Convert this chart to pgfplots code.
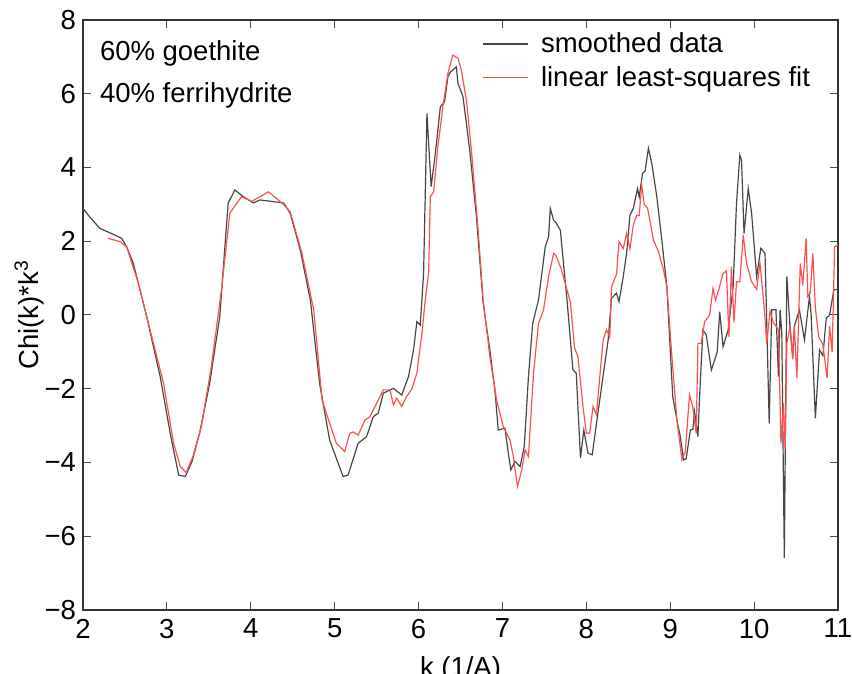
\documentclass[border=0pt]{standalone}
\usepackage{fontspec}
\setmainfont{Liberation Sans}
\usepackage{pgfplots}
\pgfplotsset{compat=1.18}
\definecolor{smoothgray}{RGB}{70,70,70}
\definecolor{fitred}{RGB}{255,80,80}

\pgfplotstableread{
k v
2.00 2.89
2.08 2.66
2.20 2.35
2.34 2.21
2.46 2.08
2.52 1.85
2.60 1.40
2.76 -0.05
2.92 -1.67
3.04 -3.21
3.14 -4.34
3.22 -4.38
3.30 -3.97
3.39 -3.21
3.51 -1.85
3.63 -0.05
3.73 3.03
3.81 3.39
3.91 3.21
4.03 3.04
4.11 3.12
4.39 3.04
4.47 2.76
4.59 1.76
4.71 0.41
4.82 -1.85
4.94 -3.39
5.10 -4.38
5.16 -4.34
5.28 -3.48
5.38 -3.30
5.46 -2.76
5.52 -2.66
5.58 -2.12
5.70 -1.99
5.80 -2.17
5.88 -1.67
5.94 -0.95
5.98 -0.18
6.02 -0.27
6.06 1.13
6.10 5.47
6.15 3.48
6.20 4.38
6.26 5.65
6.31 5.78
6.35 6.46
6.38 6.59
6.45 6.73
6.47 6.28
6.53 5.92
6.61 4.47
6.69 2.66
6.77 0.32
6.85 -0.95
6.91 -2.03
6.95 -3.12
7.03 -3.07
7.07 -3.75
7.10 -4.20
7.15 -3.97
7.21 -4.11
7.26 -3.57
7.31 -1.67
7.36 -0.23
7.43 0.41
7.51 1.85
7.55 2.12
7.57 2.89
7.61 2.57
7.64 2.50
7.69 2.30
7.77 0.40
7.84 -1.49
7.88 -1.58
7.93 -3.88
7.97 -3.12
8.02 -3.75
8.07 -3.79
8.16 -2.30
8.26 -0.68
8.30 0.45
8.36 0.59
8.39 0.36
8.44 1.04
8.48 1.67
8.52 2.71
8.56 2.89
8.61 3.43
8.63 3.20
8.67 3.84
8.70 3.90
8.74 4.52
8.78 4.11
8.84 3.21
8.90 2.03
8.96 0.77
9.03 -2.21
9.08 -2.85
9.12 -3.30
9.16 -3.93
9.19 -3.90
9.24 -3.12
9.27 -3.10
9.29 -2.62
9.33 -3.30
9.35 -2.21
9.39 -0.41
9.43 -0.54
9.49 -1.49
9.53 -1.22
9.56 -1.00
9.59 0.09
9.63 -0.86
9.69 -0.41
9.75 0.77
9.79 3.03
9.83 4.34
9.85 4.20
9.88 2.21
9.93 3.43
9.97 2.76
10.03 1.04
10.08 1.81
10.13 1.67
10.18 -2.94
10.21 0.14
10.26 0.14
10.29 -1.67
10.31 0.14
10.33 -0.50
10.36 -6.59
10.39 1.04
10.43 -0.40
10.46 -1.13
10.48 -0.30
10.54 0.14
10.60 -0.68
10.66 0.50
10.68 0.00
10.73 -2.80
10.78 -0.95
10.82 -1.10
10.86 -0.09
10.90 0.00
10.95 0.68
11.00 0.70
}\smoothed

\pgfplotstableread{
k v
2.30 2.08
2.44 1.99
2.52 1.85
2.66 0.86
2.80 -0.41
2.96 -1.85
3.08 -3.48
3.16 -4.11
3.23 -4.27
3.31 -3.84
3.41 -3.03
3.53 -1.40
3.65 0.68
3.75 2.76
3.89 3.21
4.01 3.08
4.21 3.34
4.39 3.00
4.47 2.80
4.61 1.67
4.75 0.14
4.85 -2.30
4.90 -2.66
5.02 -3.48
5.12 -3.70
5.18 -3.21
5.22 -3.17
5.28 -3.26
5.36 -2.85
5.42 -2.76
5.54 -2.21
5.58 -2.03
5.66 -2.03
5.70 -2.44
5.74 -2.26
5.80 -2.48
5.86 -2.20
5.92 -2.01
5.98 -1.58
6.04 -0.50
6.08 0.41
6.12 1.13
6.14 3.21
6.18 3.34
6.23 4.56
6.29 5.65
6.35 6.55
6.41 7.05
6.47 6.96
6.51 6.64
6.57 5.83
6.63 4.47
6.71 2.30
6.77 0.41
6.85 -1.13
6.93 -2.30
7.01 -3.03
7.09 -3.39
7.13 -3.84
7.18 -4.65
7.23 -4.20
7.27 -3.66
7.31 -3.84
7.37 -1.58
7.43 -0.23
7.49 0.14
7.55 1.04
7.61 1.67
7.64 1.60
7.70 1.25
7.81 0.35
7.86 -0.90
7.90 -1.13
7.96 -2.48
8.00 -3.21
8.04 -3.20
8.08 -2.48
8.12 -2.70
8.20 -0.68
8.24 -0.40
8.28 -0.60
8.30 0.77
8.36 1.10
8.39 1.99
8.44 1.80
8.48 2.21
8.52 1.80
8.56 2.44
8.60 2.70
8.63 2.70
8.66 3.52
8.69 3.00
8.73 2.90
8.80 2.03
8.86 1.72
8.92 1.22
8.96 0.77
9.02 -1.13
9.08 -2.85
9.14 -3.93
9.18 -3.70
9.23 -2.17
9.27 -2.50
9.31 -3.21
9.33 -0.77
9.37 -0.77
9.41 -0.18
9.47 0.00
9.51 0.72
9.54 0.40
9.58 0.70
9.63 1.13
9.67 1.20
9.70 -0.59
9.73 1.31
9.76 -0.20
9.79 0.90
9.83 0.90
9.87 2.17
9.91 1.40
9.97 0.90
10.03 0.70
10.07 1.40
10.12 0.20
10.15 -0.77
10.19 0.10
10.23 -0.20
10.29 -0.40
10.32 -3.48
10.35 -2.40
10.37 -3.66
10.39 -0.77
10.43 -0.30
10.46 -1.20
10.48 -0.30
10.51 -1.72
10.55 1.40
10.58 0.80
10.62 2.08
10.64 0.50
10.67 0.60
10.70 1.67
10.73 0.20
10.77 -0.60
10.82 -0.80
10.87 -1.72
10.90 -0.30
10.93 -1.00
10.96 1.85
11.00 1.90
}\fitted

\begin{document}
\begin{tikzpicture}[font=\fontsize{13.8}{21}\selectfont]
\begin{axis}[
    scale only axis,
    width=377.5bp,
    height=295bp,
    xmin=2, xmax=11,
    ymin=-8, ymax=8,
    xtick={2,3,...,11},
    ytick={-8,-6,...,8},
    yticklabels={−8,−6,−4,−2,0,2,4,6,8},
    /pgf/number format/assume math mode=true,
    tick align=inside,
    major tick length=4bp,
    axis line style={black!80, line width=0.6pt},
    tick style={black!70, line width=0.5pt},
    xlabel={k (1/A)},
    ylabel={Chi(k)*k\textsuperscript{3}},
    xlabel style={yshift=-2bp},
    ylabel style={yshift=-6.5bp},
    xticklabel style={yshift=-1bp},
    legend cell align=left,
    legend style={draw=none, fill=none, at={(0.525,0.99)}, anchor=north west,
        row sep=1.5bp, inner sep=1bp},
    legend image code/.code={\draw[#1, line width=0.8pt] (0cm,0cm) -- (0.8cm,0cm); \path (0.95cm,0cm);},
]
\addplot[smoothgray, line width=0.6pt] table[x=k, y=v] {\smoothed};
\addlegendentry{smoothed data}
\addplot[fitred, line width=0.6pt] table[x=k, y=v] {\fitted};
\addlegendentry{linear least-squares fit}
\node[anchor=north west, align=left, inner sep=0pt] at (rel axis cs:0.022,0.966)
    {60\% goethite\\40\% ferrihydrite};
\end{axis}
\pgfresetboundingbox
\path[use as bounding box] ([shift={(-41.5bp,-32bp)}]current axis.south west)
    rectangle ([shift={(7bp,10bp)}]current axis.north east);
\end{tikzpicture}
\end{document}
